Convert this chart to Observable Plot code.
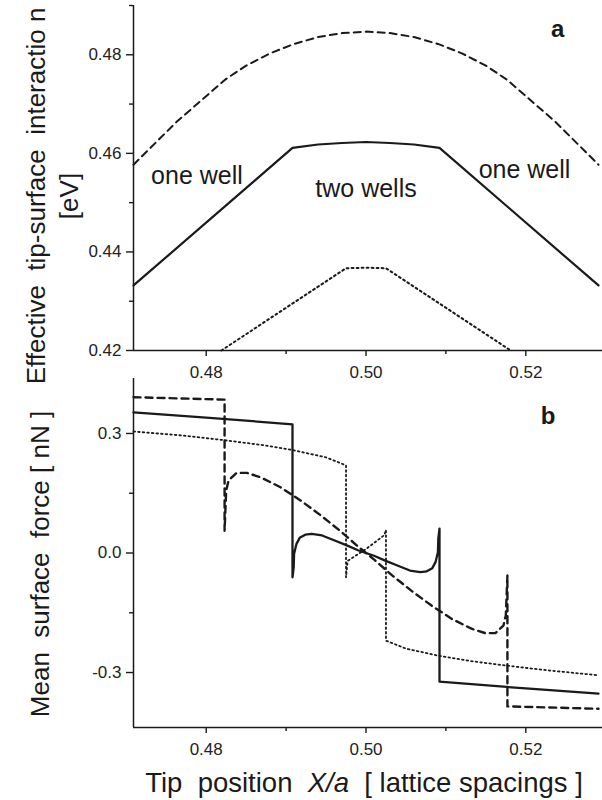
<!DOCTYPE html>
<html><head><meta charset="utf-8">
<script src="https://cdn.jsdelivr.net/npm/d3@7"></script>
<script src="https://cdn.jsdelivr.net/npm/@observablehq/plot@0.6"></script>
<style>
body{margin:0;background:#fff;}
#fig{position:relative;width:602px;height:800px;overflow:hidden;font-family:"Liberation Sans",Arial,Helvetica,sans-serif;}
#fig > svg{position:absolute;left:0;overflow:visible;}
</style></head><body><div id="fig"></div>
<script>
// ---------- Panel a: effective tip-surface interaction [eV] ----------
const aDashX = [0.4709, 0.4763, 0.4824, 0.4850, 0.4880, 0.4910, 0.4940, 0.4970, 0.5000, 0.5030, 0.5060, 0.5090, 0.5120, 0.5150, 0.5176, 0.5237, 0.5291];
const aDashY = [0.4577, 0.4664, 0.4750, 0.4778, 0.4803, 0.4822, 0.4836, 0.4844, 0.4847, 0.4844, 0.4836, 0.4822, 0.4803, 0.4778, 0.4750, 0.4664, 0.4577];
const aSolidX = [0.4709, 0.4908, 0.4940, 0.4970, 0.5000, 0.5030, 0.5060, 0.5092, 0.5291];
const aSolidY = [0.4332, 0.4611, 0.4618, 0.4621, 0.4623, 0.4621, 0.4618, 0.4611, 0.4332];
const aDotX = [0.4819, 0.4975, 0.5000, 0.5025, 0.5181];
const aDotY = [0.4200, 0.4367, 0.4368, 0.4367, 0.4200];

// ---------- Panel b: mean surface force [nN] ----------
const bSolidX = [0.4709, 0.4800, 0.4908, 0.4908, 0.49095, 0.4910, 0.4913, 0.4917, 0.4924, 0.4932, 0.4945, 0.4960, 0.4976, 0.4990, 0.5000, 0.5010, 0.5024, 0.5040, 0.5055, 0.5068, 0.5076, 0.5083, 0.5087, 0.5090, 0.50905, 0.5092, 0.5092, 0.5200, 0.5291];
const bSolidY = [0.353, 0.340, 0.323, -0.061, -0.036, -0.002, 0.023, 0.038, 0.046, 0.048, 0.044, 0.032, 0.019, 0.007, 0.000, -0.007, -0.019, -0.032, -0.044, -0.048, -0.046, -0.038, -0.023, 0.002, 0.036, 0.061, -0.323, -0.340, -0.353];
const bDashX = [0.4709, 0.4823, 0.4823, 0.4825, 0.4828, 0.4838, 0.4851, 0.4868, 0.4893, 0.4918, 0.4943, 0.4968, 0.4989, 0.5000, 0.5011, 0.5032, 0.5057, 0.5082, 0.5107, 0.5132, 0.5149, 0.5162, 0.5172, 0.5175, 0.5177, 0.5177, 0.5291];
const bDashY = [0.391, 0.385, 0.056, 0.157, 0.182, 0.201, 0.201, 0.190, 0.165, 0.132, 0.095, 0.055, 0.018, 0.000, -0.018, -0.055, -0.095, -0.132, -0.165, -0.190, -0.201, -0.201, -0.182, -0.157, -0.056, -0.385, -0.391];
const bDotX = [0.4709, 0.4770, 0.4823, 0.4870, 0.4909, 0.4950, 0.4975, 0.4975, 0.4977, 0.5000, 0.5023, 0.5025, 0.5025, 0.5050, 0.5091, 0.5130, 0.5177, 0.5230, 0.5291];
const bDotY = [0.305, 0.295, 0.283, 0.271, 0.258, 0.240, 0.220, -0.061, -0.020, 0.010, 0.045, 0.058, -0.220, -0.240, -0.258, -0.271, -0.283, -0.295, -0.307];

// ---------- ticks ----------
const xMajor = [0.48, 0.50, 0.52];
const xMinor = [0.49, 0.51];
const aYMajor = [0.42, 0.44, 0.46, 0.48];
const aYMinor = [0.43, 0.45, 0.47, 0.49];
const bYMajor = [-0.3, 0.0, 0.3];
const bYMinor = [-0.15, 0.15];

// ---------- annotations ----------
const aNoteText = ["one well", "two wells", "one well"];
const aNoteX = [0.4731, 0.5000, 0.5141];
const aNoteY = [0.4555, 0.4528, 0.4567];
const aNoteAnchor = ["start", "middle", "start"];

const xTitle = "Tip  position  ";
const xTitleItalic = "X/a";
const xTitleEnd = "  [ lattice spacings ]";
const aYTitle1 = "Effective  tip-surface  interactio n";
const aYTitle2 = "[eV]";
const bYTitle = "Mean  surface  force [ nN ]";

const zip = (xs, ys) => xs.map((x, i) => ({x, y: ys[i]}));
const INK = "#1a1a1a";
const FONT = '"Liberation Sans", Arial, Helvetica, sans-serif';
const xDomain = [0.4709, 0.5296];

const fig = document.getElementById("fig");

function axes(yMajor, yMinor, yFmt, yDomain) {
  return [
    Plot.ruleX([xDomain[0]], {stroke: INK, strokeWidth: 1.5}),
    Plot.ruleY([yDomain[0]], {stroke: INK, strokeWidth: 1.5}),
    Plot.axisX(xMajor, {tickSize: 6, tickPadding: 9, tickFormat: d => d.toFixed(2), stroke: INK, strokeWidth: 1.4, fill: "#222", fontSize: 17, label: null}),
    Plot.axisX(xMinor, {tickSize: 4, tickFormat: () => "", stroke: INK, strokeWidth: 1.4, label: null}),
    Plot.axisY(yMajor, {tickSize: 7, tickPadding: 5, tickFormat: yFmt, stroke: INK, strokeWidth: 1.4, fill: "#222", fontSize: 17, label: null}),
    Plot.axisY(yMinor, {tickSize: 4, tickFormat: () => "", stroke: INK, strokeWidth: 1.4, label: null})
  ];
}

const notes = aNoteText.map((t, i) => ({t, x: aNoteX[i], y: aNoteY[i], a: aNoteAnchor[i]}));

// ---- top panel ----
const aYDomain = [0.42, 0.49];
const topSvg = Plot.plot({
  width: 602, height: 390,
  marginTop: 5, marginBottom: 40, marginLeft: 133, marginRight: 0,
  x: {domain: xDomain, label: null},
  y: {domain: aYDomain, label: null},
  style: {fontFamily: FONT, fontSize: "17px", background: "transparent", overflow: "visible", color: INK},
  marks: [
    ...axes(aYMajor, aYMinor, d => d.toFixed(2), aYDomain),
    Plot.line(zip(aDashX, aDashY), {x: "x", y: "y", stroke: INK, strokeWidth: 2, strokeDasharray: "7,5"}),
    Plot.line(zip(aSolidX, aSolidY), {x: "x", y: "y", stroke: INK, strokeWidth: 2.2}),
    Plot.line(zip(aDotX, aDotY), {x: "x", y: "y", stroke: INK, strokeWidth: 2, strokeDasharray: "1.8,3.2"}),
    Plot.text(notes.filter(d => d.a === "start"), {x: "x", y: "y", text: "t", textAnchor: "start", fontSize: 25, fill: INK}),
    Plot.text(notes.filter(d => d.a === "middle"), {x: "x", y: "y", text: "t", textAnchor: "middle", fontSize: 25, fill: INK}),
    Plot.text(["a"], {x: 0.5240, y: 0.4851, text: d => d, fontSize: 24, fontWeight: "bold", fill: INK})
  ]
});
topSvg.style.top = "0px";
fig.appendChild(topSvg);

// ---- bottom panel ----
const bYDomain = [-0.438, 0.438];
const botSvg = Plot.plot({
  width: 602, height: 460,
  marginTop: 38, marginBottom: 73, marginLeft: 133, marginRight: 0,
  x: {domain: xDomain, label: null},
  y: {domain: bYDomain, label: null},
  style: {fontFamily: FONT, fontSize: "17px", background: "transparent", overflow: "visible", color: INK},
  marks: [
    ...axes(bYMajor, bYMinor, d => d.toFixed(1), bYDomain),
    Plot.line(zip(bDotX, bDotY), {x: "x", y: "y", stroke: INK, strokeWidth: 1.8, strokeDasharray: "1.6,3"}),
    Plot.line(zip(bDashX, bDashY), {x: "x", y: "y", stroke: INK, strokeWidth: 2.4, strokeDasharray: "7,5"}),
    Plot.line(zip(bSolidX, bSolidY), {x: "x", y: "y", stroke: INK, strokeWidth: 2.3}),
    Plot.text(["b"], {x: 0.5228, y: 0.343, text: d => d, fontSize: 24, fontWeight: "bold", fill: INK})
  ]
});
botSvg.style.top = "340px";
fig.appendChild(botSvg);

// ---- axis titles (real text) ----
function addText(svg, x, y, opts = {}) {
  return d3.select(svg).append("text")
    .attr("transform", `translate(${x},${y})` + (opts.rotate ? ` rotate(${opts.rotate})` : ""))
    .attr("text-anchor", opts.anchor || "middle")
    .attr("font-family", FONT)
    .attr("font-size", opts.size || 26)
    .attr("fill", INK)
    .style("white-space", "pre");
}
addText(topSvg, 45, 196, {rotate: -90, size: 26}).text(aYTitle1);
addText(topSvg, 78, 196, {rotate: -90, size: 26}).text(aYTitle2);
addText(botSvg, 49, 224, {rotate: -90, size: 26}).text(bYTitle);
const xt = addText(botSvg, 364, 452, {size: 27.5});
xt.append("tspan").text(xTitle);
xt.append("tspan").attr("font-style", "italic").text(xTitleItalic);
xt.append("tspan").text(xTitleEnd);
</script>
</body></html>
